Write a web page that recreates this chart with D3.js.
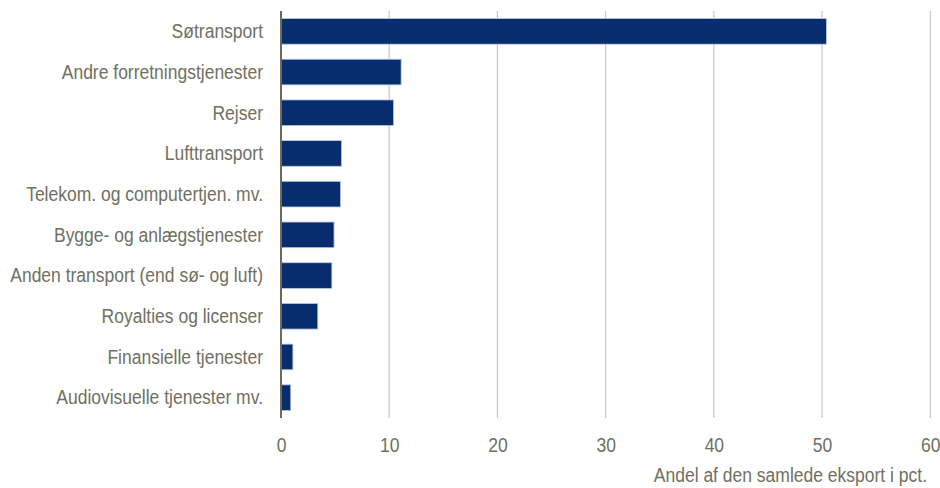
<!DOCTYPE html>
<html>
<head>
<meta charset="utf-8">
<script src="https://cdn.jsdelivr.net/npm/d3@7"></script>
<style>
  body { margin: 0; background: #fff; }
  text { font-family: "Liberation Sans", Arial, sans-serif; fill: #707062; }
</style>
</head>
<body>
<script>
// categories, top to bottom
var categories = [
  'Søtransport',
  'Andre forretningstjenester',
  'Rejser',
  'Lufttransport',
  'Telekom. og computertjen. mv.',
  'Bygge- og anlægstjenester',
  'Anden transport (end sø- og luft)',
  'Royalties og licenser',
  'Finansielle tjenester',
  'Audiovisuelle tjenester mv.'
];
// share of total export, pct.
var values = [50.4, 11.1, 10.4, 5.6, 5.5, 4.9, 4.7, 3.4, 1.1, 0.9];
var ticks = [0, 10, 20, 30, 40, 50, 60];
var axisTitle = 'Andel af den samlede eksport i pct.';

var width = 940, height = 488;
// no narrow font installed, so squeeze the text a bit
var squeeze = 'scale(0.875,1)';

var svg = d3.select('body').append('svg')
  .attr('width', width)
  .attr('height', height);

var x = d3.scaleLinear().domain([0, 60]).range([281, 930.3]);
var y = d3.scaleBand().domain(categories).range([11, 418])
  .paddingInner(0.37).paddingOuter(0.185);

// vertical gridlines
svg.append('g')
  .selectAll('line')
  .data(ticks.slice(1))
  .enter().append('line')
  .attr('x1', function(d) { return x(d); })
  .attr('x2', function(d) { return x(d); })
  .attr('y1', 11)
  .attr('y2', 418)
  .attr('stroke', '#c9c9bb')
  .attr('stroke-width', 1.2);

// bars
svg.append('g')
  .selectAll('rect')
  .data(values)
  .enter().append('rect')
  .attr('x', x(0))
  .attr('y', function(d, i) { return y(categories[i]); })
  .attr('width', function(d) { return x(d) - x(0); })
  .attr('height', y.bandwidth())
  .attr('fill', '#072d6f')
  .attr('stroke', '#b9c8e2')
  .attr('stroke-width', 0.8);

// vertical axis line
svg.append('line')
  .attr('x1', x(0)).attr('x2', x(0))
  .attr('y1', 11).attr('y2', 418)
  .attr('stroke', '#6b6b5c')
  .attr('stroke-width', 2);

// category labels
var yAxis = d3.axisLeft(y).tickSize(0).tickPadding(0);
var gy = svg.append('g').attr('transform', 'translate(263,0)').call(yAxis);
gy.select('.domain').remove();
gy.selectAll('text')
  .attr('font-size', '20px')
  .attr('fill', '#707062')
  .attr('dy', '0.34em')
  .attr('transform', squeeze)
  .style('font-family', '"Liberation Sans", Arial, sans-serif');

// x tick labels
var xAxis = d3.axisBottom(x).tickValues(ticks).tickSize(0).tickPadding(0);
var gx = svg.append('g').attr('transform', 'translate(0,438)').call(xAxis);
gx.select('.domain').remove();
gx.selectAll('text')
  .attr('font-size', '20px')
  .attr('fill', '#707062')
  .attr('dy', '0.72em')
  .attr('transform', squeeze)
  .style('font-family', '"Liberation Sans", Arial, sans-serif');

// axis title
svg.append('text')
  .attr('transform', 'translate(927,482) ' + squeeze)
  .attr('text-anchor', 'end')
  .attr('font-size', '20px')
  .text(axisTitle);
</script>
</body>
</html>
